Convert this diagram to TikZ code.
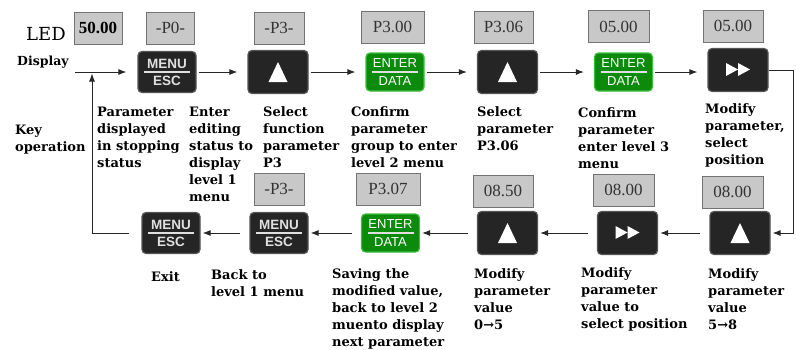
\documentclass[tikz,border=0pt]{standalone}
\usepackage{fontspec}
\setmainfont{DejaVu Serif}
\newfontfamily\keyfont{Liberation Sans}
\newfontfamily\lcdfont{Liberation Serif}
\usetikzlibrary{arrows.meta,positioning,calc}
\definecolor{kbblack}{RGB}{37,37,37}
\definecolor{kbedge}{RGB}{85,85,85}
\definecolor{kbgreen}{RGB}{12,138,12}
\definecolor{kbgreenedge}{RGB}{60,190,60}
\definecolor{kblcd}{RGB}{200,200,200}
\definecolor{kblcdedge}{RGB}{115,115,115}
\tikzset{
  kbkey/.style={
    draw=kbedge,
    fill=kbblack,
    rounded corners=4pt,
    minimum width=58pt,
    minimum height=41pt,
    inner sep=0pt,
    align=center,
    text=white!88!black,
    font=\keyfont\bfseries\fontsize{13.5}{17}\selectfont,
    line width=1.2pt
  },
  kbsplit/.style={path picture={
    \draw[white!88!black, line width=1.2pt, sharp corners]
      ([xshift=6pt]path picture bounding box.west) -- ([xshift=-6pt]path picture bounding box.east);}},
  kbmenu/.style={kbkey, kbsplit},
  kbenter/.style={kbkey, kbsplit, fill=kbgreen, draw=kbgreenedge, minimum height=38pt,
    text=white, font=\keyfont\fontsize{13}{18}\selectfont},
  kbup/.style={kbkey, minimum width=60pt, minimum height=43pt, path picture={
    \fill[white, sharp corners] ($(path picture bounding box.center)+(0,-10)$) -- ++(9.5,20) -- ++(-19,0) -- cycle;}},
  kbshift/.style={kbkey, minimum width=60pt, minimum height=43pt, path picture={
    \fill[white, sharp corners] ($(path picture bounding box.center)+(-12,-7)$) -- ++(12,6.5) -- ++(-12,6.5) -- cycle;
    \fill[white, sharp corners] ($(path picture bounding box.center)+(0,-7)$) -- ++(12,6.5) -- ++(-12,6.5) -- cycle;}},
  kblcd/.style={
    draw=kblcdedge,
    fill=kblcd,
    minimum width=61pt,
    minimum height=32pt,
    inner sep=0pt,
    text=black!80,
    font=\lcdfont\fontsize{17}{17}\selectfont,
    line width=1pt
  },
  kblcdsmall/.style={kblcd, minimum width=48pt},
  kbnote/.style={anchor=north west, align=left, inner sep=0pt,
    font=\bfseries\fontsize{13}{17}\selectfont},
  kbarrow/.style={-{Latex[length=8pt,width=6pt]}, line width=0.9pt, draw=black!85},
  kbfwd/.style={kbarrow, shorten <=2pt, shorten >=10pt},
  kbback/.style={kbarrow, shorten <=9pt, shorten >=2pt}
}
\begin{document}
\begin{tikzpicture}[x=1pt, y=-1pt]
\useasboundingbox (0,0) rectangle (796,349);
% row 1: keys
\node[kbmenu] (menuA) at (167,72) {MENU\\ESC};
\node[kbup] (upA) at (278,72) {};
\node[kbenter] (enterA) at (395,72) {ENTER\\DATA};
\node[kbup] (upB) at (507.5,72) {};
\node[kbenter] (enterB) at (623.5,72) {ENTER\\DATA};
\node[kbshift] (shiftA) at (738,70) {};
% row 1: displays
\node[kblcdsmall, font=\lcdfont\bfseries\fontsize{17}{17}\selectfont, text=black] (lcdA) at (98,28) {50.00};
\node[kblcdsmall] (lcdB) at (170.5,28) {-P0-};
\node[kblcdsmall, minimum width=50pt] (lcdC) at (279,28) {-P3-};
\node[kblcd, minimum width=63pt] (lcdD) at (392.5,27) {P3.00};
\node[kblcd, minimum width=59pt] (lcdE) at (503.5,27) {P3.06};
\node[kblcd] (lcdF) at (618.5,26.5) {05.00};
\node[kblcd, minimum width=60pt] (lcdG) at (733,26) {05.00};
% row 2: keys
\node[kbmenu] (exitK) at (171,233) {MENU\\ESC};
\node[kbmenu] (backK) at (279,233) {MENU\\ESC};
\node[kbenter] (enterC) at (390.5,233) {ENTER\\DATA};
\node[kbup] (upC) at (507.5,233) {};
\node[kbshift] (shiftB) at (627.5,233) {};
\node[kbup] (upD) at (740,233) {};
% row 2: displays
\node[kblcdsmall, minimum width=50pt] (lcdH) at (279,189) {-P3-};
\node[kblcd, minimum width=64pt] (lcdI) at (388,189) {P3.07};
\node[kblcd, minimum width=60pt] (lcdJ) at (503,191) {08.50};
\node[kblcd] (lcdK) at (623.5,190) {08.00};
\node[kblcd] (lcdL) at (732.5,192) {08.00};
% side labels
\node[inner sep=0pt, anchor=north west, font=\fontsize{18}{18}\selectfont] (ledT) at (26,27) {LED};
\node[inner sep=0pt, anchor=north west, font=\bfseries\fontsize{12.5}{15}\selectfont] (dispT) at (17,56) {Display};
\node[kbnote] (keyT) at (15,125) {Key\\operation};
% notes, row 1
\node[kbnote] (noteA) at (97,107) {Parameter\\displayed\\in stopping\\status};
\node[kbnote] (noteB) at (189,107) {Enter\\editing\\status to\\display\\level 1\\menu};
\node[kbnote] (noteC) at (263,106) {Select\\function\\parameter\\P3};
\node[kbnote] (noteD) at (351,106) {Confirm\\parameter\\group to enter\\level 2 menu};
\node[kbnote] (noteE) at (477,106) {Select\\parameter\\P3.06};
\node[kbnote] (noteF) at (578,107) {Confirm\\parameter\\enter level 3\\menu};
\node[kbnote] (noteG) at (705,103) {Modify\\parameter,\\select\\position};
% notes, row 2
\node[kbnote] (noteH) at (151,271) {Exit};
\node[kbnote] (noteI) at (211,269) {Back to\\level 1 menu};
\node[kbnote] (noteJ) at (332,268) {Saving the\\modified value,\\back to level 2\\muento display\\next parameter};
\node[kbnote] (noteK) at (474,268) {Modify\\parameter\\value\\0→5};
\node[kbnote] (noteL) at (581,267) {Modify\\parameter\\value to\\select position};
\node[kbnote] (noteM) at (708,268) {Modify\\parameter\\value\\5→8};
% connectors
\coordinate (dispIn) at (75,72);
\coordinate (dispJoin) at (92,72);
\draw[kbarrow, shorten >=11pt] (dispIn) -- (menuA);
\draw[kbfwd] (menuA) -- (upA);
\draw[kbfwd] (upA) -- (enterA);
\draw[kbfwd] (enterA) -- (upB);
\draw[kbfwd] (upB) -- (enterB);
\draw[kbfwd] (enterB.east) -- (shiftA.west |- enterB.east);
\draw[kbarrow, shorten >=2pt] (shiftA.east) -- ++(25,0) |- (upD.east);
\draw[kbback] (upD) -- (shiftB);
\draw[kbback] (shiftB) -- (upC);
\draw[kbback] (upC) -- (enterC);
\draw[kbback] (enterC) -- (backK);
\draw[kbback] (backK) -- (exitK);
\draw[kbarrow, shorten <=12pt, shorten >=1.5pt] (exitK.west) -| (dispJoin);
\end{tikzpicture}
\end{document}
